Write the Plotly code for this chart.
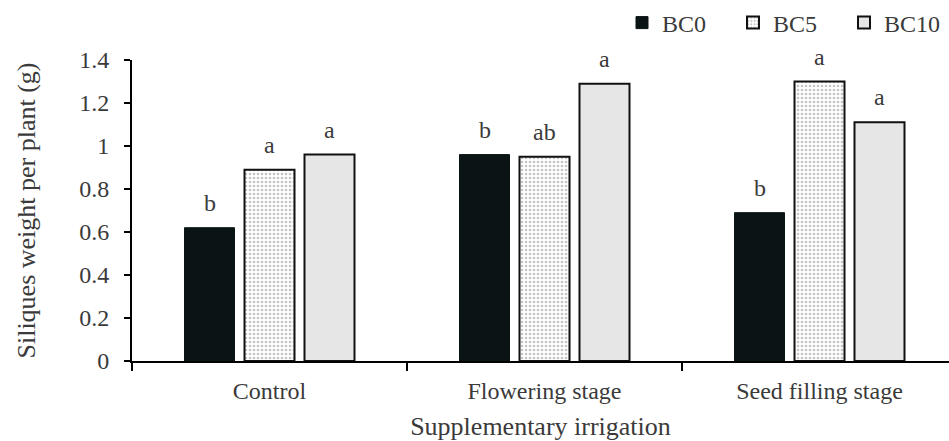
import plotly.graph_objects as go

categories = ["Control", "Flowering stage", "Seed filling stage"]
series_names = ["BC0", "BC5", "BC10"]
bc0 = [0.62, 0.96, 0.69]
bc5 = [0.89, 0.95, 1.30]
bc10 = [0.96, 1.29, 1.11]
letters_bc0 = ["b", "b", "b"]
letters_bc5 = ["a", "ab", "a"]
letters_bc10 = ["a", "a", "a"]
y_ticks = [0, 0.2, 0.4, 0.6, 0.8, 1, 1.2, 1.4]

FONT = "Liberation Serif"
TXT = "#3a3a3a"
W, H = 949, 441
ML, MR, MT, MB = 132, 0, 60, 80
cat_px = 275.0
plot_w = W - ML - MR
bargap = 1 - 180 / cat_px
bargroupgap = 1 / 6

fig = go.Figure()
fig.add_bar(name=series_names[0], x=categories, y=bc0,
            marker=dict(color="#0b1414", line=dict(color="#0b1414", width=1)))
fig.add_bar(name=series_names[1], x=categories, y=bc5,
            marker=dict(color="white", line=dict(color="#111", width=2),
                        pattern=dict(shape=".", fgcolor="#8a8a8a", bgcolor="white",
                                     size=4, solidity=0.35)))
fig.add_bar(name=series_names[2], x=categories, y=bc10,
            marker=dict(color="#e6e6e6", line=dict(color="#111", width=2)))

slot_px = cat_px * (1 - bargap) / 3
for i, (vals, labs) in enumerate([(bc0, letters_bc0), (bc5, letters_bc5), (bc10, letters_bc10)]):
    for c, v, t in zip(categories, vals, labs):
        fig.add_annotation(x=c, y=v, text=t, showarrow=False, xref="x", yref="y",
                           xshift=(i - 1) * slot_px, yshift=10, yanchor="bottom",
                           font=dict(family=FONT, size=24, color=TXT))

fig.update_layout(
    width=W, height=H,
    margin=dict(l=ML, r=MR, t=MT, b=MB, autoexpand=False),
    paper_bgcolor="white", plot_bgcolor="white",
    barmode="group", bargap=bargap, bargroupgap=bargroupgap,
    font=dict(family=FONT, size=24, color=TXT),
    showlegend=True,
    legend=dict(orientation="h", xref="container", yref="container",
                x=622 / W, y=1 - 23 / H, xanchor="left", yanchor="middle",
                font=dict(family=FONT, size=24, color=TXT),
                entrywidth=66, entrywidthmode="pixels", itemwidth=30,
                bgcolor="rgba(0,0,0,0)"),
)
fig.update_xaxes(
    range=[-0.5, -0.5 + plot_w / cat_px],
    showline=True, linecolor="black", linewidth=2,
    ticks="outside", tickson="boundaries", ticklen=8, tickcolor="black", tickwidth=2,
    ticklabelstandoff=7,
    showgrid=False, zeroline=False,
    tickfont=dict(family=FONT, size=24, color=TXT),
    title=dict(text="Supplementary irrigation", standoff=19,
               font=dict(family=FONT, size=26, color=TXT)),
)
fig.update_yaxes(
    range=[0, 1.4], tickvals=y_ticks, ticktext=[f"{v:g}" for v in y_ticks],
    showline=True, linecolor="black", linewidth=2,
    ticks="outside", ticklen=6, tickcolor="black", tickwidth=2,
    ticklabelstandoff=10,
    showgrid=False, zeroline=False,
    tickfont=dict(family=FONT, size=24, color=TXT),
    title=dict(text="Siliques weight per plant (g)", standoff=36,
               font=dict(family=FONT, size=26, color=TXT)),
)

fig.write_html("out.html")
